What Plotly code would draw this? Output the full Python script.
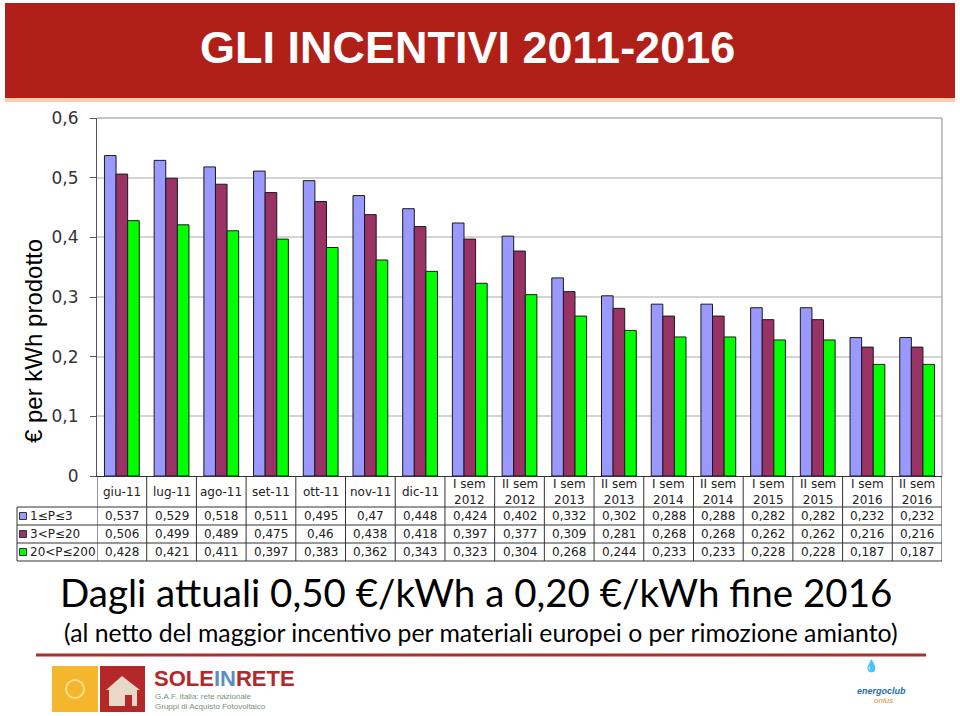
import plotly.graph_objects as go

W, H = 960, 716

categories = ["giu-11", "lug-11", "ago-11", "set-11", "ott-11", "nov-11", "dic-11",
              "I sem 2012", "II sem 2012", "I sem 2013", "II sem 2013", "I sem 2014",
              "II sem 2014", "I sem 2015", "II sem 2015", "I sem 2016", "II sem 2016"]
category_labels = ["giu-11", "lug-11", "ago-11", "set-11", "ott-11", "nov-11", "dic-11",
                   "I sem<br>2012", "II sem<br>2012", "I sem<br>2013", "II sem<br>2013",
                   "I sem<br>2014", "II sem<br>2014", "I sem<br>2015", "II sem<br>2015",
                   "I sem<br>2016", "II sem<br>2016"]

series_names = ["1≤P≤3", "3<P≤20", "20<P≤200"]
s1 = [0.537, 0.529, 0.518, 0.511, 0.495, 0.47, 0.448, 0.424, 0.402, 0.332, 0.302,
      0.288, 0.288, 0.282, 0.282, 0.232, 0.232]
s2 = [0.506, 0.499, 0.489, 0.475, 0.46, 0.438, 0.418, 0.397, 0.377, 0.309, 0.281,
      0.268, 0.268, 0.262, 0.262, 0.216, 0.216]
s3 = [0.428, 0.421, 0.411, 0.397, 0.383, 0.362, 0.343, 0.323, 0.304, 0.268, 0.244,
      0.233, 0.233, 0.228, 0.228, 0.187, 0.187]
series_values = [s1, s2, s3]
series_colors = ["#9999FF", "#993366", "#00FF00"]

y_tickvals = [0, 0.1, 0.2, 0.3, 0.4, 0.5, 0.6]
y_ticktext = ["0", "0,1", "0,2", "0,3", "0,4", "0,5", "0,6"]


def X(px):
    return px / W


def Y(py):
    return 1 - py / H


fig = go.Figure()
for name, vals, col in zip(series_names, series_values, series_colors):
    fig.add_trace(go.Bar(x=categories, y=vals, name=name, marker_color=col,
                         marker_line_color="#1a1a1a", marker_line_width=1))

shapes = []
annotations = []

# banner
shapes.append(dict(type="rect", xref="paper", yref="paper", x0=X(5), x1=X(955),
                   y0=Y(3), y1=Y(98), fillcolor="#B01F18", line_width=0, layer="below"))
shapes.append(dict(type="rect", xref="paper", yref="paper", x0=X(5), x1=X(955),
                   y0=Y(98), y1=Y(102), fillcolor="#F8CFAA", line_width=0, layer="below"))
annotations.append(dict(text="<b>GLI INCENTIVI 2011-2016</b>", xref="paper", yref="paper",
                        x=X(467), y=Y(47), showarrow=False, xanchor="center", yanchor="middle",
                        font=dict(family="Liberation Sans Narrow, Arial Narrow, Liberation Sans",
                                  size=45, color="white")))

# plot area border (top / right)
shapes.append(dict(type="line", xref="paper", yref="paper", x0=X(97), x1=X(942),
                   y0=Y(118), y1=Y(118), line=dict(color="#8a8a8a", width=1)))
shapes.append(dict(type="line", xref="paper", yref="paper", x0=X(942), x1=X(942),
                   y0=Y(118), y1=Y(476), line=dict(color="#8a8a8a", width=1)))

# y axis title
annotations.append(dict(text="€ per kWh prodotto", xref="paper", yref="paper",
                        x=X(33), y=Y(341), showarrow=False, textangle=-90,
                        xanchor="center", yanchor="middle",
                        font=dict(family="Liberation Sans, Arial", size=24, color="black")))

# data table
row_lines = [507, 525, 543, 561]
n = len(categories)
tbl_font = dict(family="DejaVu Sans, Verdana", size=12, color="#222")
for i in range(n + 1):
    shapes.append(dict(type="line", xref="x", yref="paper", x0=i - 0.5, x1=i - 0.5,
                       y0=Y(476), y1=Y(561), line=dict(color="#333", width=1)))
shapes.append(dict(type="line", xref="paper", yref="paper", x0=X(17), x1=X(17),
                   y0=Y(507), y1=Y(561), line=dict(color="#333", width=1)))
for ry in row_lines:
    shapes.append(dict(type="line", xref="paper", yref="paper", x0=X(17), x1=X(942),
                       y0=Y(ry), y1=Y(ry), line=dict(color="#333", width=1)))
for cat, lab in zip(categories, category_labels):
    annotations.append(dict(text=lab, xref="x", yref="paper", x=cat, y=Y(491.5),
                            showarrow=False, xanchor="center", yanchor="middle",
                            font=tbl_font))
for r, (name, vals, col) in enumerate(zip(series_names, series_values, series_colors)):
    top, bot = row_lines[r], row_lines[r + 1]
    mid = (top + bot) / 2
    shapes.append(dict(type="rect", xref="paper", yref="paper", x0=X(19.5), x1=X(26.5),
                       y0=Y(mid - 3.5), y1=Y(mid + 3.5), fillcolor=col,
                       line=dict(color="#333", width=1)))
    annotations.append(dict(text=name, xref="paper", yref="paper", x=X(27.5), y=Y(mid),
                            showarrow=False, xanchor="left", yanchor="middle", font=tbl_font))
    for cat, v in zip(categories, vals):
        annotations.append(dict(text=str(v).replace(".", ","), xref="x", yref="paper",
                                x=cat, y=Y(mid), showarrow=False, xanchor="center",
                                yanchor="middle", font=tbl_font))

# headline texts
annotations.append(dict(text="Dagli attuali 0,50 €/kWh a 0,20 €/kWh fine 2016",
                        xref="paper", yref="paper", x=X(476), y=Y(592), showarrow=False,
                        xanchor="center", yanchor="middle",
                        font=dict(family="Lato", size=38.5, color="black")))
annotations.append(dict(text="(al netto del maggior incentivo per materiali europei o per rimozione amianto)",
                        xref="paper", yref="paper", x=X(481), y=Y(632), showarrow=False,
                        xanchor="center", yanchor="middle",
                        font=dict(family="Lato", size=24.8, color="black")))
shapes.append(dict(type="line", xref="paper", yref="paper", x0=X(36), x1=X(926),
                   y0=Y(655), y1=Y(655), line=dict(color="#A8302E", width=3)))

# logos (approximated)
shapes.append(dict(type="rect", xref="paper", yref="paper", x0=X(52), x1=X(98),
                   y0=Y(712), y1=Y(666), fillcolor="#F4B62C", line_width=0))
shapes.append(dict(type="circle", xref="paper", yref="paper", x0=X(66), x1=X(84),
                   y0=Y(698), y1=Y(680), fillcolor="rgba(0,0,0,0)",
                   line=dict(color="#FBE08A", width=2)))
shapes.append(dict(type="rect", xref="paper", yref="paper", x0=X(100), x1=X(145),
                   y0=Y(712), y1=Y(666), fillcolor="#B5282A", line_width=0))
shapes.append(dict(type="path", xref="paper", yref="paper",
                   path=f"M {X(106)},{Y(690)} L {X(122)},{Y(676)} L {X(140)},{Y(690)} Z",
                   fillcolor="#E9D8C8", line_width=0))
shapes.append(dict(type="rect", xref="paper", yref="paper", x0=X(109), x1=X(137),
                   y0=Y(706), y1=Y(690), fillcolor="#E9D8C8", line_width=0))
shapes.append(dict(type="rect", xref="paper", yref="paper", x0=X(125), x1=X(132),
                   y0=Y(706), y1=Y(695), fillcolor="#B5282A", line_width=0))
annotations.append(dict(text="<b><span style='color:#B5282A'>SOLE</span><span style='color:#5B8EC4'>IN</span><span style='color:#B5282A'>RETE</span></b>",
                        xref="paper", yref="paper", x=X(152), y=Y(678), showarrow=False,
                        xanchor="left", yanchor="middle",
                        font=dict(family="Liberation Sans Narrow, Liberation Sans", size=22)))
annotations.append(dict(text="G.A.F. Italia: rete nazionale<br>Gruppi di Acquisto Fotovoltaico",
                        xref="paper", yref="paper", x=X(153), y=Y(701), showarrow=False,
                        xanchor="left", yanchor="middle", align="left",
                        font=dict(family="Liberation Sans Narrow, Liberation Sans", size=8,
                                  color="#7A8F7A")))
annotations.append(dict(text="💧", xref="paper", yref="paper", x=X(881), y=Y(676),
                        showarrow=False, font=dict(size=12, color="#2A7FB8")))
annotations.append(dict(text="<i><b>energoclub</b></i>", xref="paper", yref="paper",
                        x=X(881), y=Y(698), showarrow=False, xanchor="center",
                        font=dict(family="Liberation Sans", size=9, color="#1F6FA8")))
annotations.append(dict(text="<i>onlus</i>", xref="paper", yref="paper",
                        x=X(883), y=Y(707), showarrow=False, xanchor="center",
                        font=dict(family="Liberation Sans", size=8, color="#D9902B")))

fig.update_layout(
    width=W, height=H, margin=dict(l=0, r=0, t=0, b=0, pad=0, autoexpand=False),
    paper_bgcolor="white", plot_bgcolor="white",
    barmode="group", bargap=0.3, bargroupgap=0,
    showlegend=False,
    shapes=shapes, annotations=annotations,
    xaxis=dict(type="category", domain=[X(97), X(942)], range=[-0.5, n - 0.5],
               showticklabels=False, ticks="", showgrid=False, zeroline=False,
               showline=True, linecolor="#333", linewidth=1, fixedrange=True),
    yaxis=dict(domain=[Y(476), Y(118)], range=[0, 0.6], tickvals=y_tickvals,
               ticktext=y_ticktext, showgrid=True, gridcolor="#D4D4D4", gridwidth=2,
               zeroline=False, showline=True, linecolor="#555", linewidth=1,
               ticks="outside", ticklen=6, tickcolor="#555", ticklabelstandoff=8,
               tickfont=dict(family="DejaVu Sans, Verdana", size=17, color="#333"),
               fixedrange=True),
)

fig.write_html("out.html", config={"displayModeBar": False},
               post_script="document.body.style.margin='0';document.body.style.overflow='hidden';")
